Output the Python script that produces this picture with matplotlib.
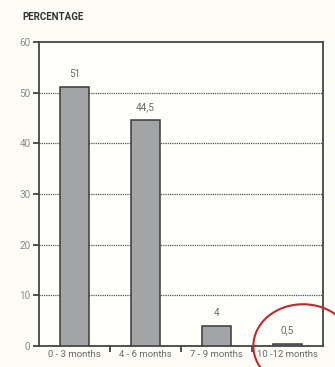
import matplotlib
matplotlib.use("Agg")
import matplotlib.pyplot as plt
from matplotlib.patches import Ellipse

categories = ["0 - 3 months", "4 - 6 months", "7 - 9 months", "10 -12 months"]
values = [51, 44.5, 4, 0.5]
labels = ["51", "44,5", "4", "0,5"]
yticks = [0, 10, 20, 30, 40, 50, 60]

plt.rcParams['font.family'] = ['Roboto', 'DejaVu Sans']

fig = plt.figure(figsize=(3.35, 3.67), dpi=100, facecolor="#fdfcf7")
ax = fig.add_axes([0.116, 0.057, 0.848, 0.829])
ax.set_facecolor("#fefefb")

x = range(len(categories))
ax.bar(x, values, width=0.41, color="#a3a4a6", edgecolor="#3a3a3a", linewidth=1.1, zorder=3)
for xi, v, lab in zip(x, values, labels):
    ax.text(xi, v + 1.6, lab, ha="center", va="bottom", fontsize=7.2, color="#6a6a6a")

ax.set_xlim(-0.5, 3.5)
ax.set_ylim(0, 60)
ax.set_yticks(yticks)
ax.set_yticklabels([str(t) for t in yticks], fontsize=7.2, color="#8a8a8a")
for t in yticks[1:-1]:
    ax.axhline(t, color="#555555", linestyle=(0, (1.0, 0.8)), linewidth=0.9, zorder=1)

ax.set_xticks([0.5, 1.5, 2.5])
ax.set_xticklabels([])
ax.set_xticks(list(x), minor=True)
ax.set_xticklabels(categories, minor=True, fontsize=6.8, color="#6a6a6a")
ax.tick_params(axis="x", which="major", direction="out", length=4, width=1.3, color="#444444")
ax.tick_params(axis="x", which="minor", length=0, pad=3)
ax.tick_params(axis="y", direction="out", length=4, width=1.3, color="#444444", pad=2)

for s in ax.spines.values():
    s.set_color("#444444")
    s.set_linewidth(1.3)

fig.text(0.066, 0.955, "PERCENTAGE", fontsize=7, fontweight="bold", color="#333333", ha="left", va="center")

ell = Ellipse((3.22, 0.0), 1.4, 16.5, angle=0, fill=False, edgecolor="#c0282c", linewidth=1.5,
              clip_on=False, zorder=5)
ax.add_patch(ell)

fig.savefig("out.png", dpi=100, facecolor=fig.get_facecolor())
